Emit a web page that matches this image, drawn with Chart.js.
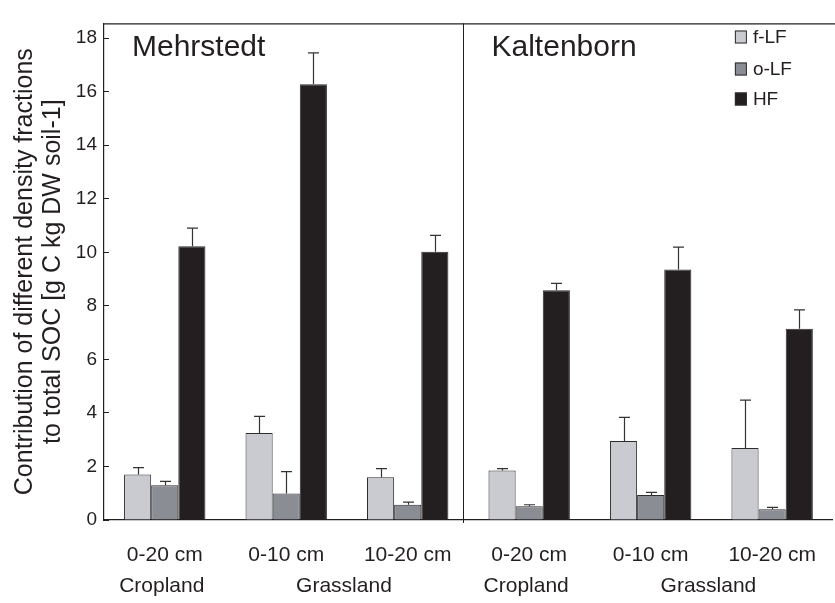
<!DOCTYPE html>
<html>
<head>
<meta charset="utf-8">
<script src="https://cdn.jsdelivr.net/npm/chart.js@4.4.1/dist/chart.umd.min.js"></script>
<style>
  html, body { margin: 0; padding: 0; background: #fff; overflow: hidden; }
  #wrap { width: 839px; height: 603px; }
</style>
</head>
<body>
<div id="wrap"><canvas id="c" width="839" height="603"></canvas></div>
<script>
// Sampling sites, depths and land use for each bar group
const sites   = ['Mehrstedt', 'Mehrstedt', 'Mehrstedt', 'Kaltenborn', 'Kaltenborn', 'Kaltenborn'];
const depths  = ['0-20 cm', '0-10 cm', '10-20 cm', '0-20 cm', '0-10 cm', '10-20 cm'];
const landUse = ['Cropland', 'Grassland', 'Grassland', 'Cropland', 'Grassland', 'Grassland'];

// Density fractions: mean contribution and upper standard deviation [g C kg DW soil-1]
const seriesNames = ['f-LF', 'o-LF', 'HF'];
const fLF   = [1.70, 3.25, 1.60, 1.85, 2.95, 2.69];
const fLFsd = [0.26, 0.62, 0.32, 0.07, 0.88, 1.79];
const oLF   = [1.30, 0.99, 0.57, 0.51, 0.93, 0.40];
const oLFsd = [0.14, 0.82, 0.10, 0.06, 0.10, 0.07];
const HF    = [10.23, 16.28, 10.02, 8.58, 9.36, 7.14];
const HFsd  = [0.67, 1.17, 0.61, 0.26, 0.83, 0.71];

const yTicks = [0, 2, 4, 6, 8, 10, 12, 14, 16, 18];
const yTitle = ['Contribution of different density fractions', 'to total SOC [g C kg DW soil-1]'];

const FONT = "'Liberation Sans', Arial, Helvetica, sans-serif";
const INK = '#231f20';
const fills = ['#c9cbd1', '#8a8d93', '#231f20'];
const edge = '#2e2c2d';

const values = [fLF, oLF, HF];
const errors = [fLFsd, oLFsd, HFsd];

// Upper error bars with caps
const errorBars = {
  id: 'errorBars',
  afterDatasetsDraw(chart) {
    const ctx = chart.ctx, y = chart.scales.y;
    ctx.save();
    ctx.strokeStyle = '#333';
    ctx.lineWidth = 1.2;
    chart.data.datasets.forEach((ds, i) => {
      const meta = chart.getDatasetMeta(i);
      meta.data.forEach((bar, j) => {
        const top = y.getPixelForValue(ds.data[j]);
        const cap = y.getPixelForValue(ds.data[j] + ds.sd[j]);
        const x = Math.round(bar.x) + 0.5;
        ctx.beginPath();
        ctx.moveTo(x, top);
        ctx.lineTo(x, cap);
        ctx.moveTo(x - 5.5, cap);
        ctx.lineTo(x + 5.5, cap);
        ctx.stroke();
      });
    });
    ctx.restore();
  }
};

// Frame top line, site divider, site names, land-use labels and legend
const decorations = {
  id: 'decorations',
  afterDraw(chart) {
    const ctx = chart.ctx, area = chart.chartArea, x = chart.scales.x;
    ctx.save();
    ctx.strokeStyle = INK;
    ctx.lineWidth = 1.2;
    // top frame line
    ctx.beginPath();
    ctx.moveTo(area.left, area.top + 0.5);
    ctx.lineTo(area.right + 5, area.top + 0.5);
    ctx.stroke();

    // site divider between the runs of categories
    const siteStarts = [];
    sites.forEach((s, i) => { if (i === 0 || sites[i - 1] !== s) siteStarts.push(i); });
    const regionLefts = [area.left];
    ctx.lineWidth = 1;
    siteStarts.slice(1).forEach(i => {
      const px = Math.round(x.getPixelForValue(i - 0.5) - 5) + 0.5;
      regionLefts.push(px);
      ctx.beginPath();
      ctx.moveTo(px, area.top);
      ctx.lineTo(px, area.bottom + 3);
      ctx.stroke();
    });

    // site names
    ctx.fillStyle = INK;
    ctx.font = `30px ${FONT}`;
    ctx.textAlign = 'left';
    ctx.textBaseline = 'alphabetic';
    siteStarts.forEach((i, k) => {
      ctx.fillText(sites[i], regionLefts[k] + 28, 56);
    });

    // land-use labels centred under runs of the same site and land use
    ctx.font = `21px ${FONT}`;
    ctx.textAlign = 'center';
    ctx.textBaseline = 'middle';
    let start = 0;
    for (let i = 1; i <= landUse.length; i++) {
      if (i === landUse.length || landUse[i] !== landUse[start] || sites[i] !== sites[start]) {
        const mid = (start + i - 1) / 2;
        ctx.fillText(landUse[start], x.getPixelForValue(mid) - 3, 586);
        start = i;
      }
    }

    // legend
    ctx.font = `19px ${FONT}`;
    ctx.textAlign = 'left';
    ctx.textBaseline = 'middle';
    const lx = area.right - 98;
    const rows = [37, 69, 99];
    chart.data.datasets.forEach((ds, i) => {
      const cy = rows[i];
      ctx.fillStyle = ds.backgroundColor;
      ctx.fillRect(lx, cy - 6.5, 12, 13);
      ctx.strokeStyle = edge;
      ctx.lineWidth = 1;
      ctx.strokeRect(lx + 0.5, cy - 6, 11, 12);
      ctx.fillStyle = INK;
      ctx.fillText(ds.label, lx + 18, cy + 1);
    });
    ctx.restore();
  }
};

new Chart(document.getElementById('c'), {
  type: 'bar',
  data: {
    labels: depths,
    datasets: seriesNames.map((name, i) => ({
      label: name,
      data: values[i],
      sd: errors[i],
      backgroundColor: fills[i],
      borderColor: edge,
      borderWidth: 1,
      categoryPercentage: 0.67,
      barPercentage: 1.0
    }))
  },
  options: {
    responsive: false,
    animation: false,
    layout: { padding: { left: 0, top: 10, right: 1, bottom: 0 } },
    plugins: { legend: { display: false }, tooltip: { enabled: false } },
    scales: {
      x: {
        afterFit(s) { s.height = 83; },
        grid: { display: false, drawTicks: false },
        border: { display: true, color: INK, width: 1.2 },
        ticks: { padding: 23, color: INK, font: { family: FONT, size: 21 }, maxRotation: 0, autoSkip: false }
      },
      y: {
        min: 0,
        max: 18.55,
        afterBuildTicks(s) { s.ticks = yTicks.map(v => ({ value: v })); },
        afterFit(s) { s.width = 104; },
        grid: { drawOnChartArea: false, drawTicks: true, tickLength: -5, color: INK, lineWidth: 1 },
        border: { display: true, color: INK, width: 1.2 },
        ticks: { padding: 12, color: INK, font: { family: FONT, size: 19 } },
        title: {
          display: true,
          text: yTitle,
          color: INK,
          font: { family: FONT, size: 25, lineHeight: 1.12 },
          padding: { top: 11, bottom: 0 }
        }
      }
    }
  },
  plugins: [errorBars, decorations]
});
</script>
</body>
</html>
